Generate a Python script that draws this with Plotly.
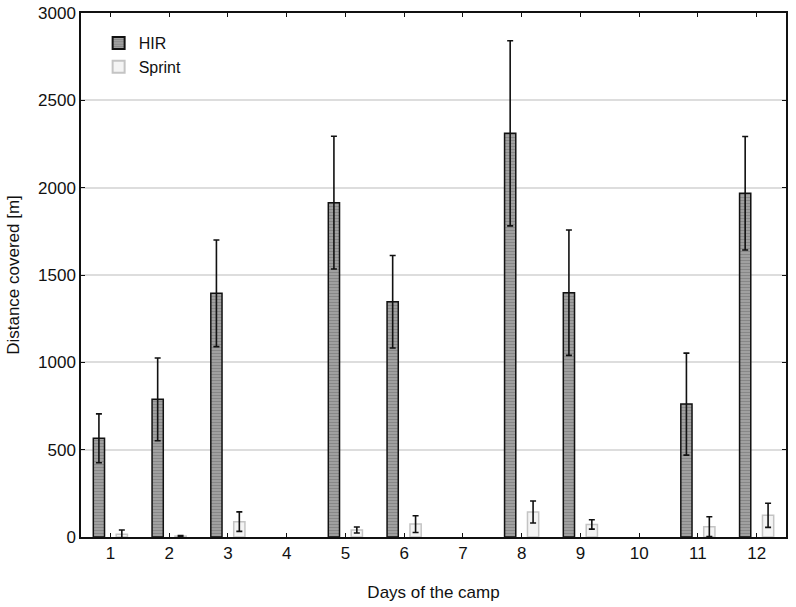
import plotly.graph_objects as go

days = ["1", "2", "3", "4", "5", "6", "7", "8", "9", "10", "11", "12"]
hir_mean = [565, 788, 1395, None, 1914, 1347, None, 2311, 1399, None, 761, 1968]
hir_sd = [140, 237, 305, None, 380, 265, None, 530, 359, None, 292, 325]
sprint_mean = [16, 5, 88, None, 40, 74, None, 143, 72, None, 59, 124]
sprint_sd = [24, 3, 56, None, 17, 48, None, 63, 27, None, 57, 69]

font = "Liberation Sans, Arial, sans-serif"

fig = go.Figure()

fig.add_trace(go.Bar(
    x=days, y=hir_mean, name="HIR",
    marker=dict(
        color="#9a9a9a",
        line=dict(color="#111111", width=1.5),
        pattern=dict(shape="-", size=3, solidity=0.45, fgcolor="#6a6a6a", bgcolor="#a4a4a4"),
    ),
    error_y=dict(type="data", array=hir_sd, color="#111111", thickness=1.6, width=3),
))

fig.add_trace(go.Bar(
    x=days, y=sprint_mean, name="Sprint",
    marker=dict(color="#f4f4f4", line=dict(color="#c4c4c4", width=1.5)),
    error_y=dict(type="data", array=sprint_sd, color="#111111", thickness=1.6, width=3),
))

fig.update_layout(
    width=796, height=607,
    margin=dict(l=81, r=10, t=13, b=70),
    plot_bgcolor="white", paper_bgcolor="white",
    barmode="group", bargap=0.22, bargroupgap=0.51,
    font=dict(family=font, size=17, color="#111111"),
    showlegend=True,
    legend=dict(
        x=0.025, y=0.975, xanchor="left", yanchor="top",
        bgcolor="rgba(0,0,0,0)", font=dict(size=16),
        itemsizing="constant", tracegroupgap=0, itemwidth=30,
    ),
    xaxis=dict(
        type="category", automargin=False,
        title=dict(text="Days of the camp", font=dict(size=17), standoff=24),
        showline=True, linecolor="#111111", linewidth=1.5, mirror="ticks",
        ticks="inside", ticklen=4, tickcolor="#111111",
        showgrid=False,
    ),
    yaxis=dict(
        automargin=False,
        title=dict(text="Distance covered [m]", font=dict(size=17), standoff=14),
        range=[0, 3000], dtick=500,
        showline=True, linecolor="#111111", linewidth=1.5, mirror="ticks",
        ticks="inside", ticklen=4, tickcolor="#111111",
        showgrid=True, gridcolor="#dddddd", gridwidth=1.5,
        zeroline=False,
    ),
)

# drop the default 8px body margin so the figure fills the window exactly
fig.write_html(
    "out.html",
    config={"displayModeBar": False},
    post_script="document.body.style.margin='0';",
)
